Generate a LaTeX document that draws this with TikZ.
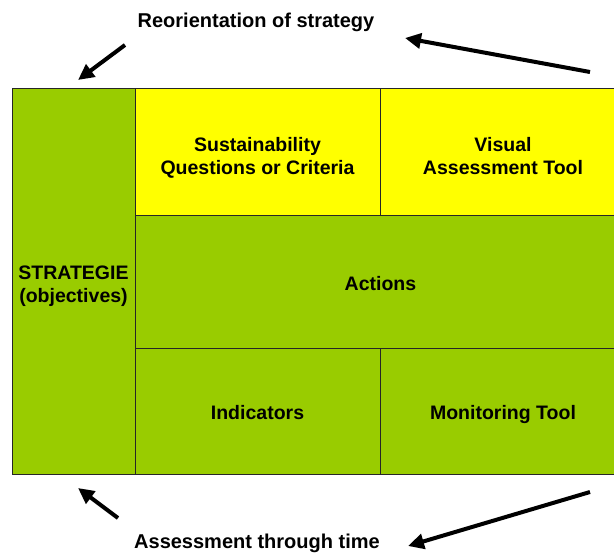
\documentclass[tikz,border=0pt]{standalone}
\usepackage{fontspec}
\setmainfont{Liberation Sans}
\usetikzlibrary{arrows.meta}
\definecolor{cellgreen}{RGB}{153,204,0}
\definecolor{cellyellow}{RGB}{255,255,0}
\newcommand{\cellgap}[1]{\rule{0pt}{#1}}
\begin{document}
\begin{tikzpicture}[x=1pt,y=-1pt]
      \useasboundingbox (0,0) rectangle (614,554);

      \begin{scope}[every node/.style={draw=black!85,line width=1pt,inner sep=0pt,align=center,
          font=\bfseries\fontsize{19.5}{23}\selectfont,execute at end node=\strut}]
        \node[fill=cellgreen,minimum width=123pt,minimum height=386pt]  (strat)   at (73.5,281)  {\cellgap{26pt}STRATEGIE\\(objectives)};
        \node[fill=cellyellow,minimum width=245pt,minimum height=127pt] (crit)    at (257.5,151.5) {\cellgap{29pt}Sustainability\\Questions or Criteria};
        \node[fill=cellyellow,minimum width=246pt,minimum height=127pt] (visual)  at (503,151.5)  {\cellgap{29pt}Visual\\Assessment Tool};
        \node[fill=cellgreen,minimum width=491pt,minimum height=133pt]  (actions) at (380.5,281.5) {\cellgap{24pt}Actions};
        \node[fill=cellgreen,minimum width=245pt,minimum height=126pt]  (ind)     at (257.5,411)  {\cellgap{24pt}Indicators};
        \node[fill=cellgreen,minimum width=246pt,minimum height=126pt]  (monitor) at (503,411)    {\cellgap{24pt}Monitoring Tool};
      \end{scope}

      \begin{scope}[every node/.style={font=\bfseries\fontsize{20}{24}\selectfont}]
        \node (reorient) at (256,22)  {Reorientation of strategy};
        \node (assess)   at (257,543) {Assessment through time};
      \end{scope}

      \coordinate (tl1) at (125,45);  \coordinate (tl2) at (78,80);
      \coordinate (tr1) at (590,72);  \coordinate (tr2) at (405,38);
      \coordinate (bl1) at (118,518); \coordinate (bl2) at (78,488);
      \coordinate (br1) at (590,492); \coordinate (br2) at (408,546);

      \begin{scope}[line width=4pt,-{Triangle[length=16pt,width=15pt]}]
        \draw (tl1) -- (tl2);
        \draw (tr1) -- (tr2);
        \draw (bl1) -- (bl2);
        \draw (br1) -- (br2);
      \end{scope}

    \end{tikzpicture}
\end{document}
